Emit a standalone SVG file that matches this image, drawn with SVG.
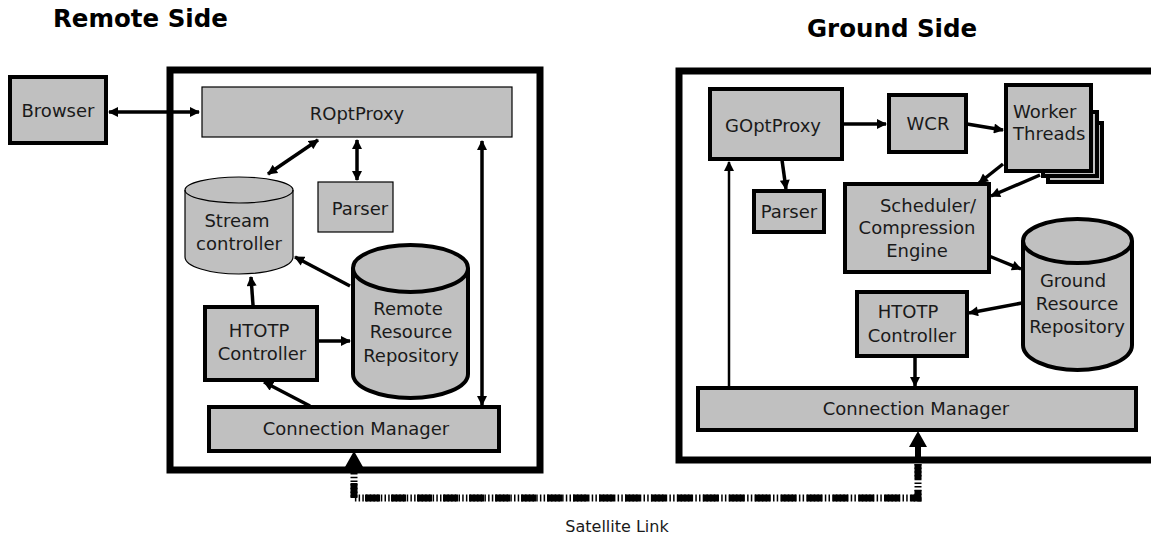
<svg xmlns="http://www.w3.org/2000/svg" width="1151" height="540" viewBox="0 0 1151 540">
<defs>
<style>
text{font-family:"DejaVu Sans","Liberation Sans",sans-serif;fill:#1a1a1a;font-size:18px;text-anchor:middle}
.title{font-weight:bold;font-size:24.5px;text-anchor:start;fill:#000}
.outer{fill:#fff;stroke:#000;stroke-width:7}
.box{fill:#c0c0c0;stroke:#000;stroke-width:4}
.thin{fill:#c0c0c0;stroke:#000;stroke-width:1.2}
.line{stroke:#000;stroke-width:3.5;fill:none}
.ln{fill:none;stroke:#000}
.link{fill:none;stroke:#000;stroke-width:7}
</style>
<marker id="ah" viewBox="0 0 10 10" refX="9" refY="5" markerWidth="11" markerHeight="10" orient="auto-start-reverse" markerUnits="userSpaceOnUse">
<path d="M0,0 L10,5 L0,10 z" fill="#000"/>
</marker>
</defs>
<rect width="1151" height="540" fill="#fff"/>
<text class="title" x="53" y="27">Remote Side</text>
<text class="title" x="807" y="37">Ground Side</text>

<rect class="outer" x="170" y="70" width="370" height="400"/>
<rect class="outer" x="679" y="71" width="480" height="389"/>

<g id="browser"><rect class="box" x="10" y="77" width="96" height="66"/><text x="58" y="117">Browser</text></g>
<g id="roptproxy"><rect class="thin" x="202" y="87" width="310" height="50"/><text x="357" y="120">ROptProxy</text></g>
<g id="parser-r"><rect class="thin" x="318" y="182" width="75" height="50"/><text x="360" y="215">Parser</text></g>
<g id="stream-controller">
<path class="thin" d="M185,190 A54,13 0 0 1 293,190 V257 A54,17 0 0 1 185,257 Z"/>
<path class="ln" stroke-width="1.2" d="M185,190 A54,13 0 0 0 293,190"/>
<text x="237" y="227">Stream</text><text x="239" y="250">controller</text></g>
<g id="remote-repo">
<path class="box" d="M353,268 A57.5,23 0 0 1 468,268 V374 A57.5,24 0 0 1 353,374 Z"/>
<path class="ln" stroke-width="4" d="M353,268 A57.5,24 0 0 0 468,268"/>
<text x="408" y="315">Remote</text><text x="411" y="338">Resource</text><text x="411" y="362">Repository</text></g>
<g id="htotp-r"><rect class="box" x="205" y="307" width="112" height="73"/><text x="259" y="337">HTOTP</text><text x="262" y="360">Controller</text></g>
<g id="connmgr-r"><rect class="box" x="209" y="407" width="290" height="44"/><text x="356" y="435">Connection Manager</text></g>

<g id="goptproxy"><rect class="box" x="710" y="89" width="132" height="70"/><text x="773" y="132">GOptProxy</text></g>
<g id="wcr"><rect class="box" x="889" y="95" width="77" height="57"/><text x="928" y="130">WCR</text></g>
<g id="worker-threads">
<rect class="box" x="1048" y="123" width="54" height="59"/>
<rect class="box" x="1043" y="112" width="54" height="64"/>
<rect class="box" x="1006" y="85" width="85" height="86"/>
<text x="1013" y="118" style="text-anchor:start">Worker</text><text x="1013" y="140" style="text-anchor:start">Threads</text></g>
<g id="parser-g"><rect class="box" x="754" y="191" width="70" height="41"/><text x="789" y="218">Parser</text></g>
<g id="scheduler"><rect class="box" x="845" y="184" width="144" height="88"/><text x="928" y="212">Scheduler/</text><text x="917" y="234">Compression</text><text x="917" y="257">Engine</text></g>
<g id="ground-repo">
<path class="box" d="M1023,241 A54.5,22 0 0 1 1132,241 V345 A54.5,25 0 0 1 1023,345 Z"/>
<path class="ln" stroke-width="4" d="M1023,241 A54.5,22 0 0 0 1132,241"/>
<text x="1073" y="287">Ground</text><text x="1077" y="310">Resource</text><text x="1077" y="333">Repository</text></g>
<g id="htotp-g"><rect class="box" x="857" y="292" width="110" height="64"/><text x="908" y="318">HTOTP</text><text x="912" y="342">Controller</text></g>
<g id="connmgr-g"><rect class="box" x="698" y="388" width="438" height="42"/><text x="916" y="415">Connection Manager</text></g>

<g id="connectors">
<path class="line" d="M109,112 H199" marker-start="url(#ah)" marker-end="url(#ah)"/>
<path class="line" d="M318,140 L268,174" marker-start="url(#ah)" marker-end="url(#ah)"/>
<path class="line" d="M357,140 V180" marker-start="url(#ah)" marker-end="url(#ah)"/>
<path class="line" d="M482,141 V405" marker-start="url(#ah)" marker-end="url(#ah)"/>
<path class="line" d="M350,286 L295,257" marker-end="url(#ah)"/>
<path class="line" d="M253,305 L251,277" marker-end="url(#ah)"/>
<path class="line" d="M318,341 H350" marker-end="url(#ah)"/>
<path class="line" d="M310,406 L264,382" marker-end="url(#ah)"/>

<path class="line" d="M843,124 H886" marker-end="url(#ah)"/>
<path class="line" d="M967,124 L1003,130" marker-end="url(#ah)"/>
<path class="line" d="M1003,164 L979,183" marker-end="url(#ah)"/>
<path class="line" d="M1040,175 L991,196" marker-end="url(#ah)"/>
<path class="line" d="M782,160 L786,189" marker-end="url(#ah)"/>
<path class="line" d="M989,256 L1021,269" marker-end="url(#ah)"/>
<path class="line" d="M1022,303 L969,313" marker-end="url(#ah)"/>
<path class="line" d="M915,357 V386" marker-end="url(#ah)"/>
<path d="M729,387 V162" stroke="#000" stroke-width="2.5" fill="none" marker-end="url(#ah)"/>

<path class="link" d="M354,473 V498 H918 V463" stroke-dasharray="1.5 2.2"/>
<path class="link" d="M354,473 V498 H918 V463" stroke-dasharray="15 11" stroke-dashoffset="-10"/>
<path d="M354,464 V474 M918,445 V458" stroke="#000" stroke-width="6"/>
<path d="M345,467 L354,451 L363,467 Z M909,447 L918,431 L927,447 Z" fill="#000"/>
</g>
<text x="617" y="532" style="font-size:16px">Satellite Link</text>
</svg>
